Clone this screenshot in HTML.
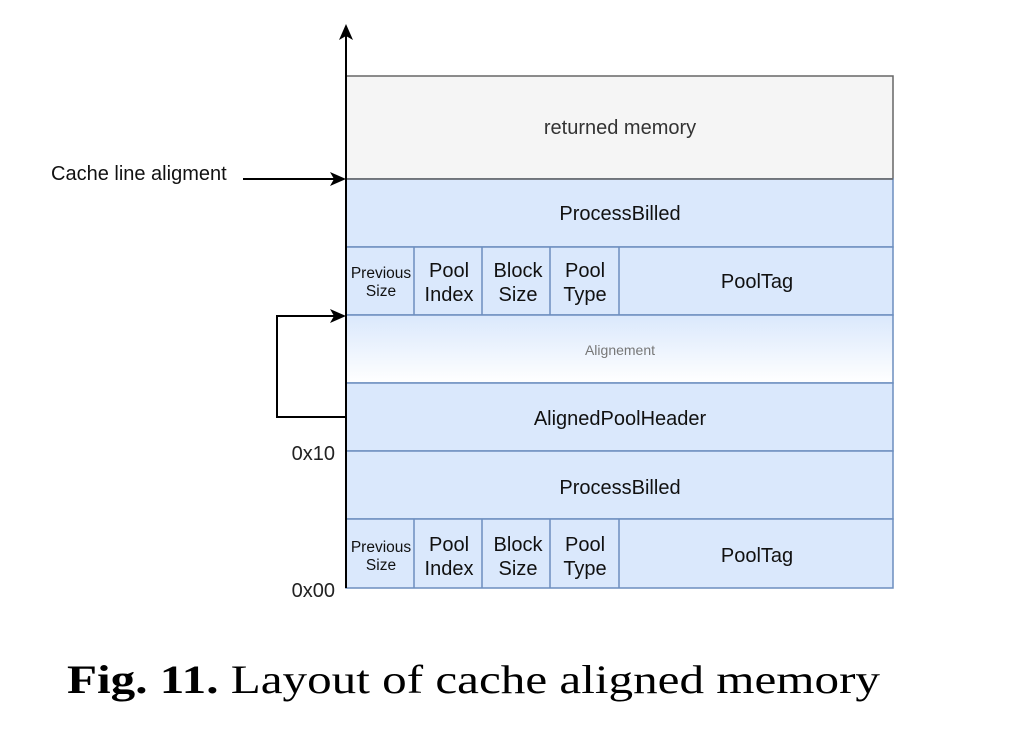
<!DOCTYPE html>
<html><head><meta charset="utf-8"><style>
html,body{margin:0;padding:0;background:#fff;}
svg{display:block;}
</style></head><body>
<svg width="1011" height="729" viewBox="0 0 1011 729" xmlns="http://www.w3.org/2000/svg" font-family="Liberation Sans, sans-serif">
<defs>
<linearGradient id="g" x1="0" y1="0" x2="0" y2="1">
<stop offset="0" stop-color="#dae8fc"/><stop offset="1" stop-color="#ffffff"/>
</linearGradient>
</defs>
<rect x="346" y="76" width="547" height="103" fill="#f5f5f5" stroke="#666" stroke-width="1.5"/>
<text x="620" y="134" font-size="20" fill="#333" text-anchor="middle">returned memory</text>
<g stroke="#6c8ebf" stroke-width="1.5">
<rect x="346" y="179" width="547" height="68" fill="#dae8fc"/>
<rect x="346" y="247" width="547" height="68" fill="#dae8fc"/>
<rect x="346" y="315" width="547" height="68" fill="url(#g)"/>
<rect x="346" y="383" width="547" height="68" fill="#dae8fc"/>
<rect x="346" y="451" width="547" height="68" fill="#dae8fc"/>
<rect x="346" y="519" width="547" height="69" fill="#dae8fc"/>
<line x1="414" y1="247" x2="414" y2="315"/><line x1="482" y1="247" x2="482" y2="315"/>
<line x1="550" y1="247" x2="550" y2="315"/><line x1="619" y1="247" x2="619" y2="315"/>
<line x1="414" y1="519" x2="414" y2="588"/><line x1="482" y1="519" x2="482" y2="588"/>
<line x1="550" y1="519" x2="550" y2="588"/><line x1="619" y1="519" x2="619" y2="588"/>
</g>
<line x1="346" y1="179" x2="893" y2="179" stroke="#666" stroke-width="1.5"/>
<g fill="#111" text-anchor="middle">
<text x="620" y="220" font-size="20">ProcessBilled</text>
<text x="620" y="425" font-size="20">AlignedPoolHeader</text>
<text x="620" y="494" font-size="20">ProcessBilled</text>
<text x="620" y="355" font-size="14" fill="#777">Alignement</text>
<g font-size="15.5"><text x="381" y="278">Previous</text><text x="381" y="296">Size</text>
<text x="381" y="552">Previous</text><text x="381" y="570">Size</text></g>
<g font-size="20">
<text x="449" y="277">Pool</text><text x="449" y="301">Index</text>
<text x="518" y="277">Block</text><text x="518" y="301">Size</text>
<text x="585" y="277">Pool</text><text x="585" y="301">Type</text>
<text x="757" y="288">PoolTag</text>
<text x="449" y="551">Pool</text><text x="449" y="575">Index</text>
<text x="518" y="551">Block</text><text x="518" y="575">Size</text>
<text x="585" y="551">Pool</text><text x="585" y="575">Type</text>
<text x="757" y="562">PoolTag</text>
</g>
</g>
<g stroke="#000" stroke-width="2" fill="none">
<line x1="346" y1="32" x2="346" y2="588"/>
<line x1="243" y1="179" x2="336" y2="179"/>
<polyline points="346,417 277,417 277,316 336,316"/>
</g>
<g fill="#000">
<polygon points="346,24 339,40 346,36 353,40"/>
<polygon points="346,179 330,172 334,179 330,186"/>
<polygon points="346,316 330,309 334,316 330,323"/>
</g>
<text x="51" y="180" font-size="20" fill="#111">Cache line aligment</text>
<text x="335" y="460" font-size="20" fill="#222" text-anchor="end">0x10</text>
<text x="335" y="597" font-size="20" fill="#222" text-anchor="end">0x00</text>
<text x="67" y="693" font-size="40" font-family="Liberation Serif, serif" fill="#000" textLength="813" lengthAdjust="spacingAndGlyphs"><tspan font-weight="bold">Fig. 11.</tspan> Layout of cache aligned memory</text>
</svg>
</body></html>
